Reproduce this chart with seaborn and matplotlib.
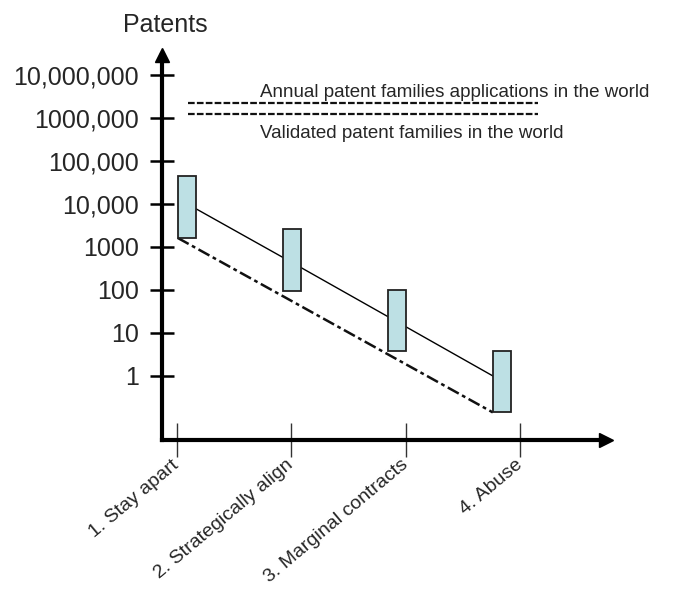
import numpy as np
import pandas as pd
import seaborn as sns
import matplotlib.pyplot as plt

# strategies on the x axis
strategies = ['1. Stay apart', '2. Strategically align', '3. Marginal contracts', '4. Abuse']
# range of patents per strategy (bottom / top of each box)
box_low = [1600, 95, 3.8, 0.14]
box_high = [45000, 2600, 100, 3.8]
# typical value (solid trend line) and lower bound (dash-dot line)
typical = [10000, 430, 18, 0.75]
lower_bound = [1600, 0.14]
# world reference levels
world_levels = [2200000, 1200000]
world_labels = ['Annual patent families applications in the world',
                'Validated patent families in the world']
ytick_vals = [1, 10, 100, 1000, 10000, 100000, 1000000, 10000000]
ytick_labels = ['1', '10', '100', '1000', '10,000', '100,000', '1000,000', '10,000,000']

sns.set_style('white')
plt.rcParams['font.family'] = ['Liberation Sans', 'DejaVu Sans']

fig = plt.figure(figsize=(6.84, 5.89), dpi=100)
ax = fig.add_axes([0.2368, 0.253, 0.649, 0.654])
ax.set_yscale('log')

xpos = np.arange(len(strategies))
box_x = 0.0875 + 0.918 * xpos  # boxes sit a bit off the ticks in the original
box_w = 0.16

df = pd.DataFrame({'x': box_x, 'typical': typical})
sns.lineplot(data=df, x='x', y='typical', color='black', linewidth=1, ax=ax, zorder=2)
low_df = pd.DataFrame({'x': [box_x[0] - box_w / 2, box_x[-1] - box_w / 2], 'y': lower_bound})
sns.lineplot(data=low_df, x='x', y='y', color='#111111', linewidth=1.8,
             ax=ax, zorder=2).lines[-1].set_dashes([5, 1.5, 1.5, 1.5])

ax.bar(box_x, np.array(box_high) - np.array(box_low), bottom=box_low, width=box_w,
       color='#bde0e4', edgecolor='#222222', linewidth=1.3, zorder=3)

ax.hlines(world_levels, 0.096, 3.16, colors='#111111', linewidth=1.6,
          linestyles=(0, (3, 1)), zorder=2)
ax.text(0.73, 3.1e6, world_labels[0], fontsize=13.5, va='baseline')
ax.text(0.73, 6.8e5, world_labels[1], fontsize=13.5, va='top')

ax.set_xlim(-0.13, 3.75)
ax.set_ylim(0.032, 2.9e7)
ax.set_xticks(xpos)
ax.set_xticklabels(strategies, rotation=40, ha='right', va='center',
                   rotation_mode='anchor', fontsize=14)
ax.set_yticks(ytick_vals)
ax.set_yticklabels(ytick_labels, fontsize=18)
ax.minorticks_off()
ax.tick_params(axis='y', left=True, direction='inout', length=17, width=1.8, pad=8,
               color='black')
ax.tick_params(axis='x', bottom=True, direction='inout', length=25, width=1, pad=4,
               color='#333333')
ax.set_xlabel('')
ax.set_ylabel('')

for s in ['top', 'right']:
    ax.spines[s].set_visible(False)
for s in ['left', 'bottom']:
    ax.spines[s].set_linewidth(3)
    ax.spines[s].set_color('black')

# arrow heads at the ends of the axes
ax.plot(1, 0, '>', color='black', markersize=10, transform=ax.transAxes, clip_on=False)
ax.plot(0, 1, '^', color='black', markersize=10, transform=ax.transAxes, clip_on=False)

fig.text(165 / 684, 1 - 25 / 589, 'Patents', fontsize=18, ha='center', va='center')

fig.savefig('out.png', dpi=100)
